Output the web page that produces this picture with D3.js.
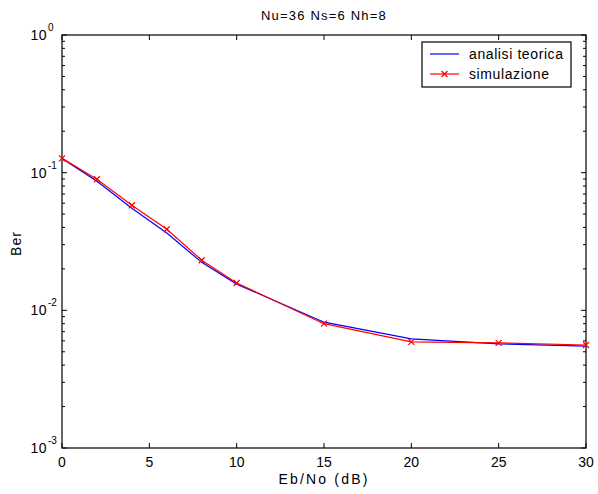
<!DOCTYPE html>
<html>
<head>
<meta charset="utf-8">
<script src="https://cdn.jsdelivr.net/npm/d3@7.9.0/dist/d3.min.js"></script>
<style>
  body { margin: 0; background: #fff; }
  svg { display: block; font-family: "Liberation Sans", Arial, sans-serif; }
</style>
</head>
<body>
<svg id="chart" width="598" height="494"></svg>
<script>
// --- data ---
const ebno = [0, 2, 4, 6, 8, 10, 15, 20, 25, 30];
const teorica = [0.127, 0.0867, 0.0552, 0.0365, 0.0223, 0.0155, 0.0082, 0.0062, 0.0057, 0.0055];
const simulazione = [0.127, 0.0895, 0.058, 0.0388, 0.0231, 0.0158, 0.0080, 0.0059, 0.0058, 0.0056];
const xTicks = [0, 5, 10, 15, 20, 25, 30];
const yDecades = [0, -1, -2, -3];
const seriesNames = ["analisi teorica", "simulazione"];

const svg = d3.select("#chart");
const margin = { top: 35, right: 12, bottom: 46, left: 62 };
const W = 598, H = 494;
const innerW = W - margin.left - margin.right;
const innerH = H - margin.top - margin.bottom;

const x = d3.scaleLinear().domain([0, 30]).range([0, innerW]);
const y = d3.scaleLog().domain([1e-3, 1]).range([innerH, 0]);

const g = svg.append("g").attr("transform", `translate(${margin.left},${margin.top})`);

// ticks (inward, on all four sides)
const minor = [];
yDecades.slice(1).forEach(e => {
  for (let k = 2; k <= 9; k++) minor.push(k * Math.pow(10, e));
});
const tickG = g.append("g").attr("stroke", "#000").attr("stroke-width", 1);
xTicks.forEach(t => {
  tickG.append("line").attr("x1", x(t)).attr("x2", x(t)).attr("y1", innerH).attr("y2", innerH - 5);
  tickG.append("line").attr("x1", x(t)).attr("x2", x(t)).attr("y1", 0).attr("y2", 5);
});
yDecades.forEach(e => {
  const v = Math.pow(10, e);
  tickG.append("line").attr("x1", 0).attr("x2", 5).attr("y1", y(v)).attr("y2", y(v));
  tickG.append("line").attr("x1", innerW).attr("x2", innerW - 5).attr("y1", y(v)).attr("y2", y(v));
});
minor.forEach(v => {
  tickG.append("line").attr("x1", 0).attr("x2", 3).attr("y1", y(v)).attr("y2", y(v));
  tickG.append("line").attr("x1", innerW).attr("x2", innerW - 3).attr("y1", y(v)).attr("y2", y(v));
});

// frame
g.append("rect").attr("width", innerW).attr("height", innerH)
  .attr("fill", "none").attr("stroke", "#000").attr("stroke-width", 1.2);

// x tick labels
g.selectAll(".xl").data(xTicks).join("text")
  .attr("x", d => x(d)).attr("y", innerH + 19)
  .attr("text-anchor", "middle").attr("font-size", 14).attr("fill", "#000")
  .text(d => d);

// y tick labels 10^e
yDecades.forEach(e => {
  const yy = y(Math.pow(10, e));
  g.append("text").attr("x", -15).attr("y", yy + 5)
    .attr("text-anchor", "end").attr("font-size", 14).attr("letter-spacing", 0.5).text("10");
  g.append("text").attr("x", -14).attr("y", yy - 4)
    .attr("font-size", 10).text(e);
});

// lines
const line = arr => d3.line().x((d, i) => x(ebno[i])).y(d => y(d))(arr);
g.append("path").attr("d", line(teorica)).attr("fill", "none")
  .attr("stroke", "#0000ff").attr("stroke-width", 1.2);
g.append("path").attr("d", line(simulazione)).attr("fill", "none")
  .attr("stroke", "#ff0000").attr("stroke-width", 1.2);

// x markers for simulazione
const s = 3;
g.selectAll(".mk").data(simulazione).join("path")
  .attr("transform", (d, i) => `translate(${x(ebno[i])},${y(d)})`)
  .attr("d", `M${-s},${-s}L${s},${s}M${-s},${s}L${s},${-s}`)
  .attr("stroke", "#ff0000").attr("stroke-width", 1.2).attr("fill", "none");

// title and axis labels
svg.append("text").attr("x", margin.left + innerW / 2).attr("y", 20)
  .attr("text-anchor", "middle").attr("font-size", 13).attr("letter-spacing", 1.2)
  .text("Nu=36 Ns=6 Nh=8");
svg.append("text").attr("x", margin.left + innerW / 2).attr("y", 484)
  .attr("text-anchor", "middle").attr("font-size", 14).attr("letter-spacing", 2.2)
  .text("Eb/No (dB)");
svg.append("text").attr("transform", `translate(21,${margin.top + innerH / 2 + 2}) rotate(-90)`)
  .attr("text-anchor", "middle").attr("font-size", 14).attr("letter-spacing", 1)
  .text("Ber");

// legend
const lg = svg.append("g").attr("transform", "translate(422,42)");
lg.append("rect").attr("width", 149).attr("height", 45)
  .attr("fill", "#fff").attr("stroke", "#000").attr("stroke-width", 1.2);
const colors = ["#0000ff", "#ff0000"];
seriesNames.forEach((name, i) => {
  const ly = 12 + i * 20;
  lg.append("line").attr("x1", 8).attr("x2", 37).attr("y1", ly).attr("y2", ly)
    .attr("stroke", colors[i]).attr("stroke-width", 1.2);
  if (i === 1) {
    lg.append("path").attr("transform", `translate(22.5,${ly})`)
      .attr("d", `M${-s},${-s}L${s},${s}M${-s},${s}L${s},${-s}`)
      .attr("stroke", colors[i]).attr("stroke-width", 1.2);
  }
  lg.append("text").attr("x", 47).attr("y", ly + 5)
    .attr("font-size", 14).attr("letter-spacing", 0.6).text(name);
});
</script>
</body>
</html>
